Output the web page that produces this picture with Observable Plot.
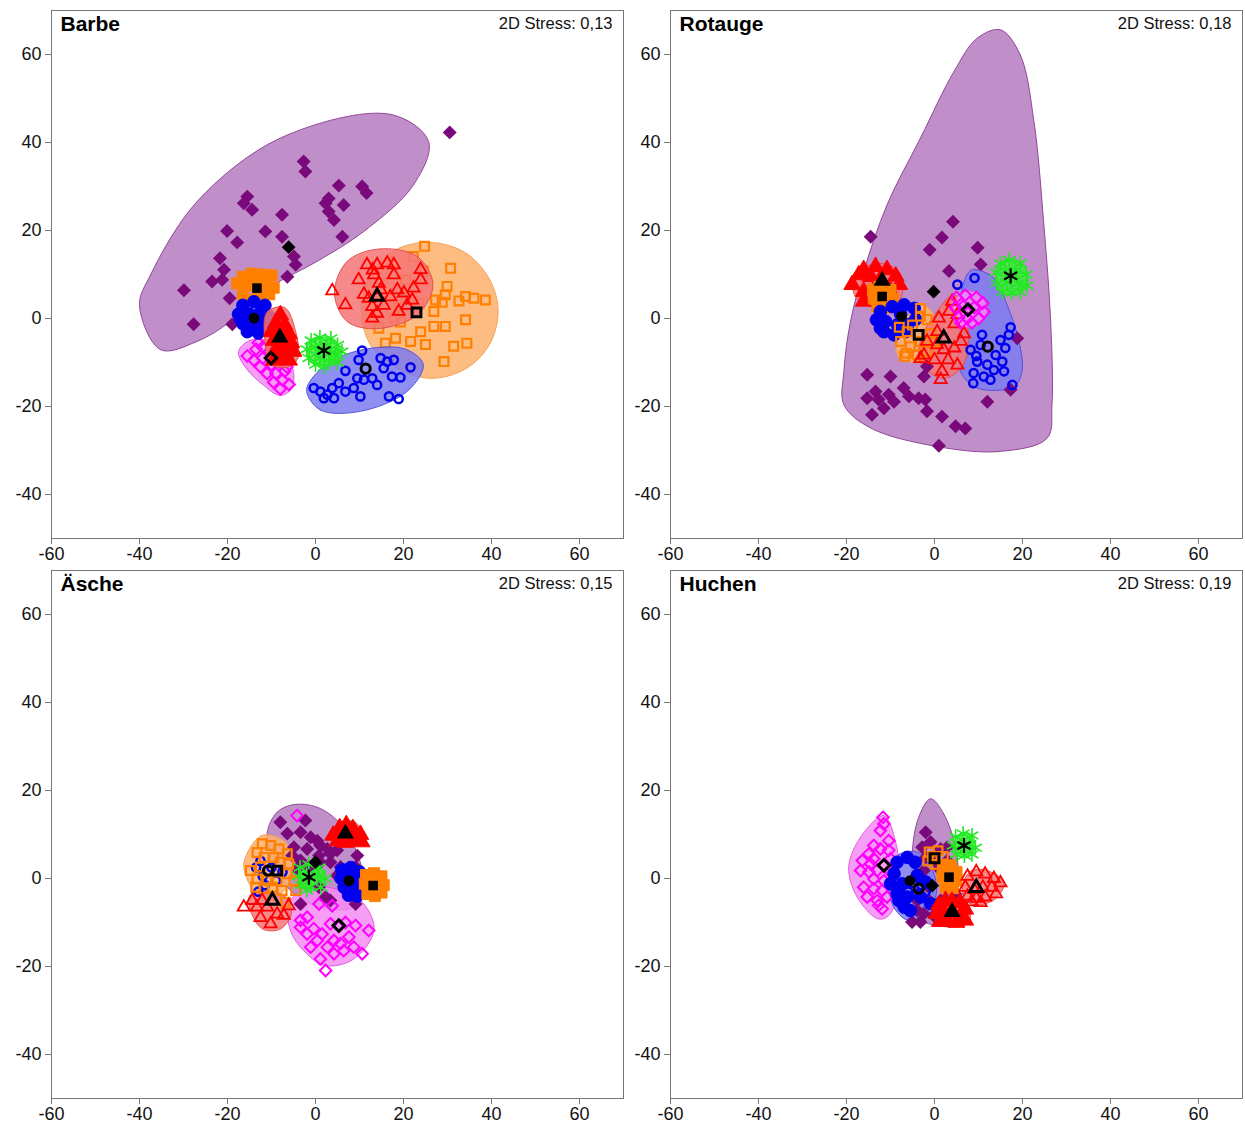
<!DOCTYPE html>
<html>
<head>
<meta charset="utf-8">
<script src="https://cdn.jsdelivr.net/npm/d3@7"></script>
<script src="https://cdn.jsdelivr.net/npm/@observablehq/plot@0.6"></script>
<style>
  body { margin: 0; background: #fff; }
  #chart { position: relative; width: 1245px; height: 1130px; font-family: "Liberation Sans", Arial, Helvetica, sans-serif; }
  #chart svg { position: absolute; overflow: visible; }
</style>
</head>
<body>
<div id="chart"></div>
<script>
// ---- axes ----
const xTicks = [-60, -40, -20, 0, 20, 40, 60];
const yTicks = [-40, -20, 0, 20, 40, 60];
const panelTitles = ["Barbe", "Rotauge", "Äsche", "Huchen"];
const stressValues = ["0,13", "0,18", "0,15", "0,19"];

// ---- Barbe: NMDS scores [x, y] per group ----
const barbeFD = [[30.5,42.3],[-2.7,35.7],[-2.3,33.4],[5.3,30.2],[10.6,30.0],[11.6,28.5],[-15.5,27.7],[-16.3,26.2],[-14.4,24.7],[3.0,27.3],[2.3,26.2],[6.4,25.8],[3.0,24.3],[4.2,22.4],[-7.6,23.6],[6.1,18.6],[-20.1,19.9],[-11.4,19.8],[-17.8,17.3],[-7.6,18.6],[-4.9,14.1],[-4.5,12.2],[-6.4,9.5],[-21.7,13.7],[-20.8,11.1],[-23.5,8.4],[-21.2,8.8],[-29.9,6.4],[-19.5,4.6],[-27.7,-1.3],[-18.9,-1.3]];
const barbeFDHull = [[-40,3],[-37.5,9.9],[-26.9,26.6],[-8,41],[17,46.4],[25.7,40.2],[22.3,30.4],[11,19.8],[0.4,13],[-10.6,6.9],[-19.3,-0.7],[-26.9,-5.2],[-35.2,-7.1]];
const barbeOS = [[24.8,16.4],[22.2,14.1],[30.7,11.4],[20.5,8.8],[29.9,7.3],[29.5,5.4],[27.3,4.2],[28.8,3.7],[32.6,4.0],[34.1,5.0],[36.0,4.6],[38.6,4.2],[26.9,1.6],[23.5,3.5],[34.1,-0.3],[26.9,-1.8],[29.5,-1.8],[23.9,-3.0],[21.6,-5.2],[18.2,-4.5],[15.9,-5.6],[25.0,-5.9],[31.4,-6.3],[34.4,-5.6],[29.2,-9.8],[14.4,-2.2],[17.8,0.1],[19.3,-0.8],[24.5,10.8],[18.8,2.5]];
const barbeOSHull = [[10.4,2],[12.5,10],[18,15.5],[26,17.3],[34,15],[39.5,9],[41.5,1.8],[39.5,-6],[34,-11.5],[26,-13.6],[18,-11],[12.5,-6]];
const barbeOT = [[3.8,6.3],[6.8,3.1],[9.8,8.8],[11.7,12.2],[14.0,12.2],[16.3,12.6],[17.8,12.2],[13.3,9.9],[14.4,8.0],[14.8,6.5],[17.8,9.9],[20.1,5.8],[22.3,6.9],[23.9,11.1],[23.9,8.8],[22.0,4.2],[12.1,4.6],[12.9,2.7],[12.9,0.1],[14.0,1.2],[15.5,3.0],[18.9,1.6],[20.8,3.0],[17.0,4.9],[18.6,6.5],[11.0,5.5],[13.0,11.0]];
const barbeOTHull = [[4.3,5.8],[7.2,13],[14.4,15.8],[23.1,14.1],[26.7,7.7],[23.1,0.8],[14,-2.3],[7.2,-0.7]];
const barbeOC = [[10.6,-7.3],[9.8,-9.4],[14.8,-9.0],[16.3,-9.8],[17.8,-9.4],[6.8,-11.9],[12.9,-13.6],[14.0,-15.1],[15.5,-11.3],[17.4,-13.2],[19.3,-13.4],[21.6,-11.1],[9.5,-13.6],[11.0,-13.9],[5.3,-14.7],[3.8,-15.8],[1.1,-16.6],[1.9,-18.1],[4.2,-18.1],[6.8,-16.6],[8.7,-15.8],[10.2,-17.7],[16.7,-17.7],[18.9,-18.3],[-0.4,-15.8],[2.7,-17.3]];
const barbeOCHull = [[-2,-16.6],[1.1,-20.8],[10.2,-21.1],[20.8,-16.6],[24.5,-10.5],[20.8,-7.1],[14,-6.6],[4.9,-9],[-0.8,-13.6]];
const barbeOD = [[-15.5,-8.5],[-13.5,-7],[-12,-6.5],[-14,-9.5],[-12,-9],[-10.5,-7.5],[-12.5,-11],[-10,-10.5],[-8,-10],[-11,-12.5],[-9,-12.5],[-7,-12],[-9.5,-14.5],[-7.5,-14],[-6,-15],[-8,-16],[-13,-5.5],[-6.5,-11]];
const barbeODHull = [[-17.5,-7.5],[-15,-5],[-11,-5],[-7,-8],[-5,-12],[-5.5,-16],[-8,-17.5],[-12,-15],[-16,-11]];
const barbeST = [[-1,-5],[1,-4.3],[3.5,-4.5],[5,-6],[-2,-7],[0,-6.5],[2.5,-6],[4.5,-8],[6,-7.5],[-1.5,-9],[1,-9],[3,-9.5],[5,-10],[0,-10.5],[2,-11],[1,-7.5],[3.5,-7.8]];
const barbeSTHull = [[-1.5,-5.2],[0.3,-4.3],[3.8,-4.5],[5.6,-6.7],[5.2,-9.8],[2.8,-10.8],[-0.3,-10.5],[-2,-8.3]];
const barbeFS = [[-16.5,9.5],[-14.5,10.2],[-12,10],[-10,9.8],[-17.8,8],[-15.5,7.5],[-11.5,7.8],[-9.5,7],[-16.5,5.5],[-13,5],[-10.5,5.5],[-15,4.2],[-12,4],[-14,8.5],[-11,9]];
const barbeFC = [[-16.5,3],[-14,3.8],[-11.5,3],[-17.5,1],[-15,1],[-12.5,1.5],[-10.5,0.5],[-16.5,-1.2],[-14,-1.5],[-11.5,-1.5],[-15.5,-3],[-13,-3.3],[-11,-2.8],[-17,-0.2],[-12,0]];
const barbeFT = [[-8,0.8],[-9,-1],[-7,-1.5],[-10,-3],[-8,-3],[-6,-3.5],[-9.5,-5],[-7.5,-5.2],[-5.5,-5.5],[-9,-7],[-7,-7.2],[-5,-7.5],[-8,-8.8],[-6,-9.5],[-9.5,-9.5]];
const barbeFTHull = [[-11,1.5],[-7,2.5],[-4.5,-3],[-4,-9],[-6,-11],[-10,-10.5],[-11.5,-5]];
const barbeCentroids = [["fd",-6.1,16.2],["os",22.95,1.4],["ot",14,5],["oc",11.4,-11.4],["od",-10.1,-9],["st",1.9,-7.3],["fs",-13.3,6.9],["fc",-14,0.1],["ft",-8.1,-4.3]];

// ---- Rotauge ----
const rotaugeFD = [[-14.5,18.6],[4.2,22],[1.7,18.4],[-1.1,15.6],[9.8,16.1],[10.5,12.3],[3.3,10.8],[18.8,-4.5],[17.3,-16.2],[12,-18.9],[-15.3,-12.8],[-10,-13.2],[-2.4,-13.2],[-1.7,-10.9],[-7,-15.8],[-13.4,-16.6],[-15.3,-18.1],[-12.7,-18.4],[-10.4,-17.3],[-9.2,-18.9],[-11.5,-20.4],[-5.8,-17.7],[-3.6,-18.1],[-2.1,-18.4],[-14.2,-21.9],[-1.7,-21.1],[1.7,-22.3],[4.8,-24.5],[7,-25],[1,-28.9]];
const rotaugeFDHull = [[15,65.6],[19.5,59.9],[22.6,44.8],[24.8,22],[26.4,-0.7],[26.7,-19.6],[25.6,-27.2],[15,-30.2],[0.6,-29.1],[-14.5,-24.9],[-20.6,-19.6],[-20.6,-12],[-19.1,-0.7],[-16.1,10.7],[-10.8,25.8],[-3.2,41],[4.4,56.1],[9.7,63.7]];
const rotaugeOC = [[5.2,7.7],[9.1,9.2],[17.3,-2.0],[16.9,-3.7],[10.8,-3.7],[8.2,-7.1],[15.0,-4.9],[16.1,-6.7],[13.9,-8.3],[15.4,-9.8],[9.7,-9.8],[12.0,-10.5],[13.5,-11.7],[8.9,-12.4],[11.2,-13.2],[12.7,-13.9],[15.8,-12.0],[8.8,-14.7],[17.7,-15.1],[10.5,-6.0],[9.5,-8.5]];
const rotaugeOCHull = [[8.6,11.1],[13.5,9.2],[16.5,3.1],[19.2,-5.2],[19.9,-12],[18,-15.5],[9.7,-15.8],[5.9,-12],[5.5,-4.5],[5.9,2.3],[6.7,8.4]];
const rotaugeFT = [[-18.7,7.7],[-17.2,9.9],[-16.1,11.1],[-13.4,11.8],[-10.8,11.1],[-8.8,9.6],[-8,7.7],[-16.1,3.9],[-16.1,6.1],[-10.3,6.8],[-12.4,8.8],[-14.5,9.5],[-9.5,4]];
const rotaugeFTHull = [[-18.5,8],[-16,11.5],[-12,12.5],[-8,10.5],[-7.5,5],[-10,3],[-15,2.8],[-18,5]];
const rotaugeFS = [[-14,6.5],[-12.5,7.2],[-10,6.5],[-13.8,4.5],[-11.5,4.2],[-9.5,4.5],[-13,2.8],[-11,2.5],[-12,5.5]];
const rotaugeFC = [[-12.3,1.6],[-11.1,-0.7],[-11.5,-3],[-9.6,2.7],[-6.9,3.1],[-4.6,2.3],[-8.4,-1.4],[-6.1,-1.4],[-4.3,-0.2],[-9.2,-3.7],[-6.6,-3],[-12.3,-2.2],[-7.7,1],[-13.2,-0.3]];
const rotaugeOS = [[-3.2,2.3],[-3.2,0.5],[-1.7,-0.2],[-6.2,-3],[-7.7,-5.2],[-5.5,-6.4],[-3.2,-5.2],[-0.8,-3.4],[0,-5.2],[-6.4,-7.9],[-3.9,-8.3],[-1.7,-7.5],[-6.8,-8.6],[-5,-1.5],[-8,-2]];
const rotaugeOSHull = [[-8.5,-1.5],[-5.5,1],[-3.5,3],[-1.5,2.5],[0.8,-1],[1.5,-6],[-0.5,-9.5],[-4.5,-10],[-8,-9],[-9,-5]];
const rotaugeOT = [[4,3.9],[3.3,1.6],[5.2,0.9],[1,0.1],[4.5,-1.2],[6.7,-3.5],[0.6,-3],[-1.7,-5.2],[2.1,-7.1],[4.5,-6.7],[6,-5.2],[-2.4,-8.3],[0,-9.4],[3.1,-9.4],[5.2,-10.6],[1.7,-12],[1.4,-13.9],[-3.2,-9.1],[0.6,-6]];
const rotaugeOTHull = [[4.4,5.4],[7.3,-0.2],[6.7,-10.2],[2.1,-13.6],[-3.2,-10.2],[-3.2,-5.2],[0.6,1.6]];
const rotaugeOD = [[5,4.8],[7,5.3],[9.5,4.8],[11,3.5],[4.8,2.5],[6.5,2.8],[9,2.5],[11.3,1.5],[5.5,0.2],[7.5,0],[10,0],[8.5,-1],[6,-1]];
const rotaugeODHull = [[4.3,3],[6,5.8],[10,5.8],[12,2],[10,-1.5],[5.5,-1.5]];
const rotaugeST = [[15,12.5],[17,13.3],[19.5,12.5],[14,10.5],[16,10.8],[18.5,11],[20.8,10],[14.2,8],[16.5,8.2],[19,8],[21,7.5],[15.5,6],[17.5,5.8],[19.5,6]];
const rotaugeSTHull = [[14,10],[15.3,13],[18,13.5],[20.6,11.8],[21.2,8],[19.3,5.8],[16,5.6],[14.3,7.2]];
const rotaugeCentroids = [["fd",-0.2,6.1],["ft",-11.9,8.6],["fs",-11.9,5],["fc",-7.5,0.5],["os",-3.6,-3.7],["ot",2.1,-4.5],["od",7.6,2],["oc",12.1,-6.4],["st",17.3,9.7]];

// ---- Äsche ----
const ascheFD = [[-8,12.8],[-2.3,13.2],[-6.4,10.2],[-3.4,10.5],[-1.1,9.4],[0.4,8.6],[1.1,7.5],[2.7,6.7],[3.4,5.6],[4.9,6.4],[-1.9,6.7],[-4.9,7.1],[-5.3,5.2],[-3.4,4.1],[0.8,5.2],[1.1,3.7],[3.4,3.7],[5.7,2.6],[9.5,5.2],[9.1,2.6],[7.2,0.7],[4.9,0.7],[0.8,-2],[2.3,-4.2],[3.4,-5],[-3.4,-5.8],[9.1,-5.8],[10.2,-2.3],[-4.2,2.2],[-1.5,2.5]];
const ascheFDHull = [[-11,10.2],[-8.7,15.1],[-4.9,16.8],[0.4,16.2],[5.7,12.4],[9.5,5.6],[11,-1.2],[8.7,-6.5],[1.1,-6.5],[-5.7,-2.7],[-9.5,3.3]];
const ascheOD = [[-4.2,14.3],[0.8,-5.8],[3.8,-6.2],[-1.9,-8.8],[-3.4,-9.5],[-0.4,-11.4],[1.5,-12.6],[3.4,-10.3],[6.8,-10],[9.1,-10.7],[12.1,-11.8],[-1.9,-12.6],[0.4,-14.1],[4.2,-14.1],[5.7,-14.8],[7.6,-13.3],[8.7,-15.6],[6.4,-16.4],[4.2,-17.1],[1.1,-18.3],[2.3,-20.9],[10.6,-17.1],[-1.1,-15.6],[2.7,-15.6],[-3.4,-11.1]];
const ascheODHull = [[-6.1,-5.8],[-5.7,-11.8],[-2.7,-16.4],[2.3,-19.8],[8.7,-18.3],[13.3,-11.8],[11,-5.8],[5.7,-2.7],[-1.9,-2]];
const ascheOC = [[-13.5,2.5],[-12,0.5],[-10,2.5],[-11.5,-1.5],[-9,-0.5],[-12.5,4],[-7.5,1.5],[-13,-3]];
const ascheOS = [[-12.1,7.9],[-10.2,7.5],[-8.3,6.7],[-6.4,5.6],[-13.3,5.9],[-11.7,4.8],[-9.5,4.8],[-8,3.7],[-6.1,3.3],[-12.5,2.6],[-6.4,1.1],[-13.3,-0.1],[-11,-0.5],[-8.7,-0.5],[-4.9,-0.5],[-13.6,-2],[-11.7,-2.3],[-9.8,-2],[-7.6,-2.7],[-4.5,-2.7],[-6.8,-5.4],[-14.8,1.8]];
const ascheOSHull = [[-12.1,9.8],[-16.3,3.3],[-14,-2.7],[-10.2,-5],[-5.3,0.3],[-6.4,7.9]];
const ascheOT = [[-16.3,-6.5],[-14.4,-5],[-13.3,-6.5],[-12.1,-5],[-11,-6.5],[-10.2,-10.3],[-7.2,-8.4],[-6.1,-6.2],[-8.7,-8.1],[-12.5,-8.9]];
const ascheOTHull = [[-15,-4],[-12,-3],[-7,-4],[-5.5,-8],[-8,-11.5],[-12,-11.5],[-14.5,-8]];
const ascheST = [[-3.5,2.5],[-1.5,3.2],[0.8,2.5],[-3.8,0.5],[-2,0.8],[0.5,0.5],[2.2,0],[-3.2,-1.5],[-1,-1.8],[1.2,-2],[-2,-2.7]];
const ascheSTHull = [[-3.5,1],[-2.3,3],[0.8,2.8],[2,0.5],[1.2,-2.2],[-1.5,-2.6],[-3.3,-1.3]];
const ascheFT = [[4,9.8],[5.5,11.5],[7,12.2],[8.5,11.3],[10.2,10],[5,8.5],[6.8,8.2],[8.5,8.6],[10.5,8.3],[6,10],[8,10]];
const ascheFTHull = [[3.5,10],[5.5,12.8],[9,12.8],[11,9.5],[9,7.5],[5,7.5]];
const ascheFC = [[6,2],[8,2.5],[10,1.5],[5.8,0],[7.5,0.2],[9.5,-0.2],[11,-0.8],[6.5,-2],[8.5,-2.2],[10.5,-2.5],[7.5,-3.8],[9.5,-4]];
const ascheFS = [[11.5,0.8],[13.3,1.2],[15,0.5],[11.2,-1.2],[13,-1.5],[15.5,-1.5],[11.8,-3.5],[13.5,-4],[15,-3.2]];
const ascheCentroids = [["fd",0,3.7],["od",5.3,-10.7],["oc",-10.8,1.8],["os",-8.7,1.8],["ot",-9.8,-5],["st",-1.5,0.3],["ft",6.8,10.2],["fc",7.6,-0.5],["fs",13.1,-1.6]];

// ---- Huchen ----
const huchenOD = [[-11.7,13.9],[-11.5,12.4],[-12.3,10.9],[-10.4,8.6],[-13.8,7.5],[-12.3,6.7],[-10.4,6.4],[-14.9,5.6],[-13.8,4.5],[-10,4.5],[-16.4,4.1],[-14.5,3.3],[-16.8,1.8],[-14.9,1.5],[-13,1.8],[-10,1.5],[-13.8,-0.1],[-11.5,-0.5],[-16.1,-2],[-13.8,-2.3],[-11.9,-2.7],[-15.3,-4.2],[-13,-5],[-10.8,-4.2],[-12.7,-6.1],[-11.9,-6.9]];
const huchenODHull = [[-11.5,14.3],[-8.9,8.6],[-8.1,1.1],[-10,-8],[-12.7,-9.2],[-17.6,-4.2],[-19.5,2.6],[-16.8,9.4]];
const huchenFD = [[-2,10.5],[-0.9,8.3],[-2.8,7.1],[1.4,6.7],[2.9,7.1],[-2,4.8],[0.2,3.7],[2.9,4.1],[-2.4,1.8],[1.4,1.8],[4,-0.1],[-1.3,-2],[2.9,-2],[-3.9,-5],[-1.3,-5],[1.4,-5],[4.8,-3.5],[-3.9,-7.3],[-2.4,-8],[-5.1,-9.9],[-3.2,-9.9],[-0.2,-8.4]];
const huchenFDHull = [[-0.9,18.1],[2.1,14.7],[5.2,4.8],[4.4,-5],[1.4,-10.3],[-3.9,-8.8],[-5.1,4.8],[-3.6,13.9]];
const huchenOC = [[-5,-1],[-3,-1.5],[-4,-3.5],[-2,-3],[-6,-3]];
const huchenFC = [[-8.5,3.7],[-6.2,4.8],[-4.4,3.7],[-9.2,1.1],[-7.3,-1.2],[-3.9,0.7],[-2,-0.8],[-8.5,-3.5],[-6.2,-4.2],[-3.2,-4.2],[-0.9,-5.7],[-6.9,-6.5],[-5.5,-7.3],[-8.1,-5],[-10,-1.2]];
const huchenFCHull = [[-10,2],[-8,5.5],[-4,6],[-1,3],[0.5,-3],[-2,-8],[-6,-9.5],[-9.5,-6]];
const huchenOS = [[-1.2,6],[0.8,6.3],[2,5],[-1.5,4],[0.2,3.2],[1.8,3.3],[-0.5,5]];
const huchenFS = [[2,2.8],[3.8,3],[5,1.5],[1.8,0.5],[3.3,-0.3],[5,-0.5],[2.5,-2],[4.2,-2.2]];
const huchenST = [[4.8,9.5],[6.5,10.2],[8.5,9.8],[4.3,7.5],[6,7.5],[8,7.8],[9.3,7],[5,5.5],[6.8,5.2],[8.5,5.5]];
const huchenSTHull = [[4.5,8],[5.8,10],[8.3,10],[9.3,7.5],[8.3,5.3],[5.6,5]];
const huchenOT = [[7.5,0.5],[9.5,1.5],[11.5,1],[13.5,0],[15,-1],[7,-2],[9,-2.5],[11,-2],[13,-2],[7.5,-4],[9.5,-4.5],[11.5,-4.2],[14,-3.5],[8.5,-5.3],[10.5,-5.5]];
const huchenOTHull = [[6.5,-1],[8.5,1.8],[12,1.8],[15.8,-1],[14,-4.5],[10,-6],[7,-5]];
const huchenFT = [[1,-6],[2.5,-5],[4,-5.2],[5.8,-5.5],[7,-7],[0.5,-8],[2.2,-7.8],[4,-7.5],[6,-8.2],[1.2,-9.8],[3,-9.8],[5,-10],[7,-9.5]];
const huchenFTHull = [[0,-6],[3,-4.5],[7.5,-6],[7.8,-10],[3,-11],[0,-10]];
const huchenCentroids = [["od",-11.5,3],["fc",-5.6,-0.5],["oc",-3.6,-2.3],["fd",-0.5,-1.6],["os",0,4.6],["fs",3.3,0.3],["st",6.7,7.5],["ot",9.5,-2.1],["ft",4,-7.6]];

// ---- marker and hull styles for each group ----
const styles = {
  fd: {symbol: "diamond2", r: 6.3, fill: "#7a0a7c", stroke: "none", sw: 0, hull: "#b57bbf", hs: "#8a3a90"},
  os: {symbol: "square2", r: 5.6, fill: "none", stroke: "#ff8000", sw: 2.2, hull: "#fdb16c", hs: "#f59a45"},
  fs: {symbol: "square", r: 6.2, fill: "#ff8000", stroke: "#ff8000", sw: 1, hull: "#fdb16c", hs: "#f59a45"},
  oc: {symbol: "circle", r: 4.1, fill: "none", stroke: "#0000ee", sw: 2.5, hull: "#7b7bf0", hs: "#4a4ad8"},
  fc: {symbol: "circle", r: 6.3, fill: "#0000ee", stroke: "#0000ee", sw: 1, hull: "#7b7bf0", hs: "#4a4ad8"},
  ot: {symbol: "triangle2", r: 5.8, fill: "none", stroke: "#ff0000", sw: 1.8, hull: "#f57676", hs: "#e04848"},
  ft: {symbol: "triangle", r: 6.2, fill: "#ff0000", stroke: "#ff0000", sw: 1, hull: "#f57676", hs: "#e04848"},
  od: {symbol: "diamond2", r: 5.2, fill: "none", stroke: "#ff00ff", sw: 2, hull: "#f48cf4", hs: "#e050e0"},
  st: {symbol: "asterisk", r: 7, fill: "none", stroke: "#22e822", sw: 1.6, hull: "#3ced3c", hs: "#22e822"}
};
const centroidStyles = {
  fd: {symbol: "diamond2", r: 6.2, fill: "#000", stroke: "none", sw: 0},
  os: {symbol: "square2", r: 5.6, fill: "none", stroke: "#000", sw: 3},
  fs: {symbol: "square", r: 5.4, fill: "#000", stroke: "none", sw: 0},
  oc: {symbol: "circle", r: 4.6, fill: "none", stroke: "#000", sw: 3},
  fc: {symbol: "circle", r: 5.4, fill: "#000", stroke: "none", sw: 0},
  ot: {symbol: "triangle2", r: 6.2, fill: "none", stroke: "#000", sw: 3},
  ft: {symbol: "triangle", r: 6.4, fill: "#000", stroke: "none", sw: 0},
  od: {symbol: "diamond2", r: 5.2, fill: "none", stroke: "#000", sw: 3},
  st: {symbol: "asterisk", r: 7.2, fill: "none", stroke: "#000", sw: 2.2}
};

const panels = [
  {left: 0, top: 0, width: 625, height: 566, ml: 51, mb: 28, hullsFirst: false,
   groups: [["fd", barbeFD, barbeFDHull], ["os", barbeOS, barbeOSHull], ["ot", barbeOT, barbeOTHull], ["oc", barbeOC, barbeOCHull], ["od", barbeOD, barbeODHull], ["st", barbeST, barbeSTHull], ["fs", barbeFS, null], ["fc", barbeFC, null], ["ft", barbeFT, barbeFTHull]],
   centroids: barbeCentroids},
  {left: 625, top: 0, width: 619, height: 566, ml: 45, mb: 28, hullsFirst: true,
   groups: [["fd", rotaugeFD, rotaugeFDHull], ["oc", rotaugeOC, rotaugeOCHull], ["ft", rotaugeFT, rotaugeFTHull], ["fs", rotaugeFS, null], ["fc", rotaugeFC, null], ["os", rotaugeOS, rotaugeOSHull], ["ot", rotaugeOT, rotaugeOTHull], ["od", rotaugeOD, rotaugeODHull], ["st", rotaugeST, rotaugeSTHull]],
   centroids: rotaugeCentroids},
  {left: 0, top: 560, width: 625, height: 568, ml: 51, mb: 30, hullsFirst: true,
   groups: [["fd", ascheFD, ascheFDHull], ["od", ascheOD, ascheODHull], ["oc", ascheOC, null], ["os", ascheOS, ascheOSHull], ["ot", ascheOT, ascheOTHull], ["st", ascheST, ascheSTHull], ["ft", ascheFT, ascheFTHull], ["fc", ascheFC, null], ["fs", ascheFS, null]],
   centroids: ascheCentroids},
  {left: 625, top: 560, width: 619, height: 568, ml: 45, mb: 30, hullsFirst: true,
   groups: [["od", huchenOD, huchenODHull], ["fd", huchenFD, huchenFDHull], ["oc", huchenOC, null], ["fc", huchenFC, huchenFCHull], ["os", huchenOS, null], ["fs", huchenFS, null], ["st", huchenST, huchenSTHull], ["ot", huchenOT, huchenOTHull], ["ft", huchenFT, huchenFTHull]],
   centroids: huchenCentroids}
];

const hullMark = (key, pts) => {
  const s = styles[key];
  return Plot.line(pts, {x: d => d[0], y: d => d[1], curve: "catmull-rom-closed",
    fill: s.hull, fillOpacity: 0.85, stroke: s.hs, strokeOpacity: 0.9, strokeWidth: 1});
};
const dotMark = (key, pts) => {
  const s = styles[key];
  return Plot.dot(pts, {x: d => d[0], y: d => d[1], symbol: s.symbol, r: s.r,
    fill: s.fill, stroke: s.stroke, strokeWidth: s.sw});
};
const centroidMark = (c) => {
  const s = centroidStyles[c[0]];
  return Plot.dot([c], {x: d => d[1], y: d => d[2], symbol: s.symbol, r: s.r,
    fill: s.fill, stroke: s.stroke, strokeWidth: s.sw});
};

const chart = document.getElementById("chart");
panels.forEach((p, i) => {
  const marks = [];
  if (p.hullsFirst) {
    p.groups.forEach(([k, pts, hull]) => { if (hull) marks.push(hullMark(k, hull)); });
    p.groups.forEach(([k, pts]) => marks.push(dotMark(k, pts)));
  } else {
    p.groups.forEach(([k, pts, hull]) => {
      if (hull) marks.push(hullMark(k, hull));
      marks.push(dotMark(k, pts));
    });
  }
  p.centroids.forEach(c => marks.push(centroidMark(c)));

  const svg = Plot.plot({
    width: p.width,
    height: p.height,
    marginLeft: p.ml,
    marginRight: 2,
    marginTop: 10,
    marginBottom: p.mb,
    style: {fontFamily: "Liberation Sans, Arial, Helvetica, sans-serif", color: "#111", background: "transparent"},
    x: {domain: [-60, 70]},
    y: {domain: [-50, 70]},
    marks: [
      ...marks,
      Plot.frame({stroke: "#777", strokeWidth: 1}),
      Plot.axisX({ticks: xTicks, tickFormat: d => String(d), tickSize: 6, tickPadding: 3, label: null, stroke: "#777", fill: "#111", fontSize: 18}),
      Plot.axisY({ticks: yTicks, tickFormat: d => String(d), tickSize: 6, tickPadding: 4, label: null, stroke: "#777", fill: "#111", fontSize: 18}),
      Plot.text([panelTitles[i]], {frameAnchor: "top-left", text: d => d, dx: 9, dy: 6, fontSize: 21, fontWeight: "bold", fill: "#000"}),
      Plot.text([`2D Stress: ${stressValues[i]}`], {frameAnchor: "top-right", text: d => d, dx: -11, dy: 7, fontSize: 16.5, fill: "#111"})
    ]
  });
  svg.style.left = p.left + "px";
  svg.style.top = p.top + "px";
  chart.appendChild(svg);
});
</script>
</body>
</html>
